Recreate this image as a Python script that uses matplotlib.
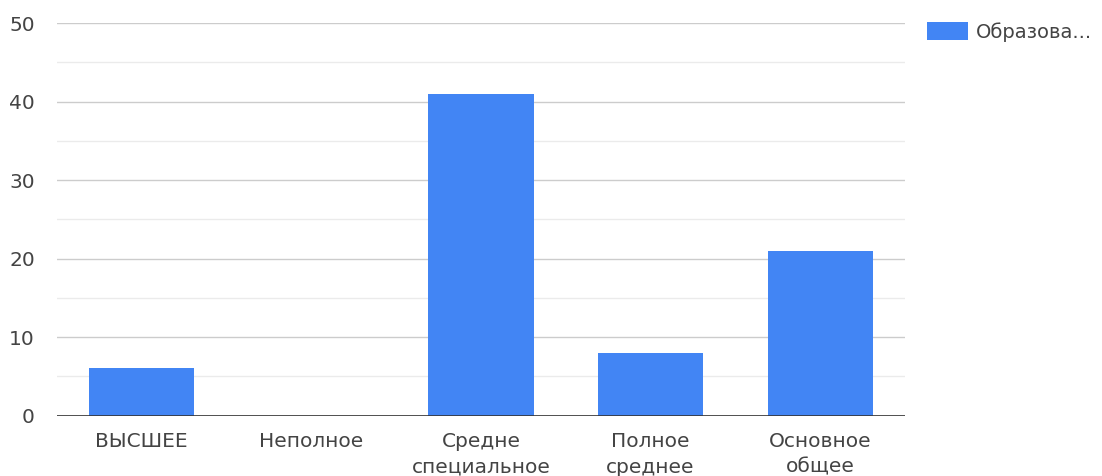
import matplotlib
matplotlib.use("Agg")
import matplotlib.pyplot as plt
from matplotlib.ticker import MultipleLocator

categories = ["ВЫСШЕЕ", "Неполное", "Средне\nспециальное", "Полное\nсреднее", "Основное\nобщее"]
values = [6, 0, 41, 8, 21]
series_name = "Образова..."
y_ticks = [0, 10, 20, 30, 40, 50]

bar_color = "#4285f4"
text_color = "#444444"

matplotlib.rcParams["font.family"] = ["DejaVu Sans"]

fig = plt.figure(figsize=(11.02, 4.76), dpi=100)
ax = fig.add_axes([0.0517, 0.127, 0.7695, 0.8246])

x = range(len(categories))
ax.bar(x, values, width=0.62, color=bar_color, label=series_name, zorder=3)

ax.set_xlim(-0.5, len(categories) - 0.5)
ax.set_ylim(0, 50)
ax.set_yticks(y_ticks)
ax.yaxis.set_minor_locator(MultipleLocator(5))
ax.set_xticks(list(x))
ax.set_xticklabels(categories, linespacing=1.42)

ax.grid(axis="y", which="major", color="#cccccc", linewidth=1, zorder=0)
ax.grid(axis="y", which="minor", color="#ebebeb", linewidth=1, zorder=0)
ax.axhline(0, color="#333333", linewidth=1.2, zorder=4)

for side in ["top", "right", "left", "bottom"]:
    ax.spines[side].set_visible(False)

ax.tick_params(axis="y", which="both", length=0, pad=16, labelsize=14.5, labelcolor=text_color)
ax.tick_params(axis="x", which="both", length=0, pad=12, labelsize=14.5, labelcolor=text_color)

leg = ax.legend(loc="upper left", bbox_to_anchor=(0.841, 0.954), bbox_transform=fig.transFigure,
                frameon=False, handlelength=2.1, handleheight=1.05, handletextpad=0.45,
                fontsize=14, borderaxespad=0, borderpad=0)
for t in leg.get_texts():
    t.set_color(text_color)

fig.savefig("out.png", dpi=100)
plt.close(fig)
